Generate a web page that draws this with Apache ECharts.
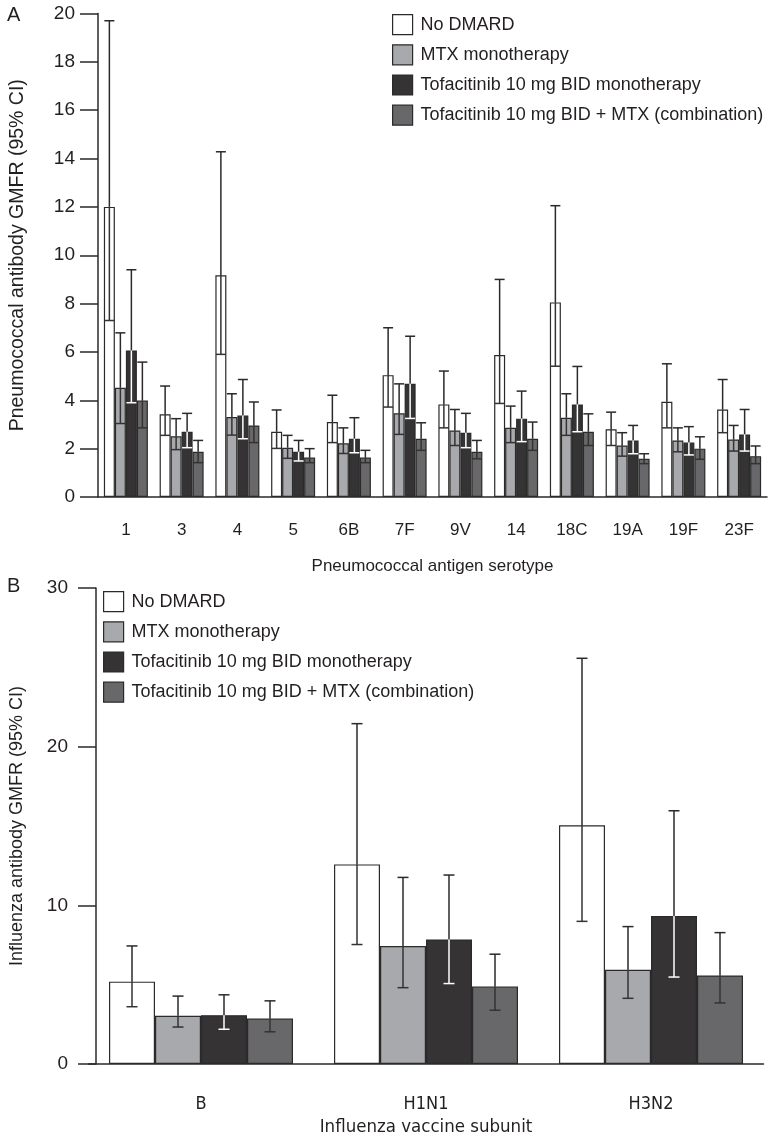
<!DOCTYPE html>
<html><head><meta charset="utf-8">
<script src="https://cdn.jsdelivr.net/npm/echarts@6/dist/echarts.min.js"></script>
<style>html,body{margin:0;padding:0;background:#fff}#c{width:777px;height:1138px}</style>
</head><body><div id="c"></div><script>
const seriesNames = ['No DMARD', 'MTX monotherapy', 'Tofacitinib 10 mg BID monotherapy', 'Tofacitinib 10 mg BID + MTX (combination)'];

// Panel A: pneumococcal serotypes
const serotypes = ['1', '3', '4', '5', '6B', '7F', '9V', '14', '18C', '19A', '19F', '23F'];
const pneuNoDmardMean  = [12.0, 3.42, 9.17, 2.70, 3.10, 5.04, 3.83, 5.87, 8.05, 2.80, 3.94, 3.62];
const pneuNoDmardLower = [7.3, 2.55, 5.9, 2.01, 2.25, 3.72, 2.86, 3.87, 5.41, 2.13, 2.86, 2.66];
const pneuNoDmardUpper = [19.7, 4.59, 14.28, 3.6, 4.21, 7.0, 5.21, 9.0, 12.05, 3.51, 5.51, 4.86];
const pneuMtxMean  = [4.52, 2.51, 3.31, 2.04, 2.22, 3.46, 2.75, 2.86, 3.28, 2.13, 2.34, 2.38];
const pneuMtxLower = [3.04, 1.96, 2.56, 1.60, 1.80, 2.59, 2.13, 2.25, 2.55, 1.69, 1.87, 1.90];
const pneuMtxUpper = [6.79, 3.24, 4.27, 2.55, 2.86, 4.68, 3.62, 3.76, 4.27, 2.66, 2.86, 2.96];
const pneuTofaMean  = [6.06, 2.70, 3.37, 1.87, 2.41, 4.68, 2.66, 3.24, 3.83, 2.34, 2.25, 2.59];
const pneuTofaLower = [3.9, 2.04, 2.41, 1.49, 1.83, 3.25, 2.04, 2.29, 2.70, 1.79, 1.74, 1.90];
const pneuTofaUpper = [9.4, 3.46, 4.86, 2.34, 3.28, 6.65, 3.46, 4.38, 5.40, 2.96, 2.91, 3.62];
const pneuComboMean  = [3.99, 1.87, 2.96, 1.63, 1.63, 2.41, 1.87, 2.41, 2.70, 1.58, 2.0, 1.69];
const pneuComboLower = [2.86, 1.42, 2.25, 1.42, 1.42, 1.93, 1.58, 1.93, 2.13, 1.38, 1.56, 1.38];
const pneuComboUpper = [5.58, 2.34, 3.93, 2.0, 1.93, 3.07, 2.34, 3.10, 3.44, 1.79, 2.49, 2.11];
const pneuTicks = [0, 2, 4, 6, 8, 10, 12, 14, 16, 18, 20];

// Panel B: influenza subunits
const subunits = ['B', 'H1N1', 'H3N2'];
const fluNoDmardMean  = [5.19, 12.58, 15.05];
const fluNoDmardLower = [3.61, 7.53, 8.99];
const fluNoDmardUpper = [7.44, 21.45, 25.57];
const fluMtxMean  = [3.04, 7.44, 5.94];
const fluMtxLower = [2.33, 4.81, 4.14];
const fluMtxUpper = [4.28, 11.76, 8.66];
const fluTofaMean  = [3.08, 7.85, 9.33];
const fluTofaLower = [2.19, 5.07, 5.48];
const fluTofaUpper = [4.36, 11.91, 15.96];
const fluComboMean  = [2.86, 4.89, 5.58];
const fluComboLower = [2.03, 3.39, 3.85];
const fluComboUpper = [3.98, 6.92, 8.28];
const fluTicks = [0, 10, 20, 30];

const fills = ['#ffffff', '#a8a9ac', '#353334', '#68686a'];
const lowLine = ['#333333', '#333333', '#ffffff', '#333333'];
const ink = '#231f20';
const font = '"Liberation Sans", Arial, sans-serif';
const narrow = '"Liberation Sans Narrow", "DejaVu Sans Condensed", "Liberation Sans", sans-serif';

const pneu = [
  [pneuNoDmardMean, pneuNoDmardLower, pneuNoDmardUpper],
  [pneuMtxMean, pneuMtxLower, pneuMtxUpper],
  [pneuTofaMean, pneuTofaLower, pneuTofaUpper],
  [pneuComboMean, pneuComboLower, pneuComboUpper]
];
const flu = [
  [fluNoDmardMean, fluNoDmardLower, fluNoDmardUpper],
  [fluMtxMean, fluMtxLower, fluMtxUpper],
  [fluTofaMean, fluTofaLower, fluTofaUpper],
  [fluComboMean, fluComboLower, fluComboUpper]
];

const PA_BAR = 11, PB_BAR = 46;

function errRender(idx, barW, capHi, capLo) {
  return function (params, api) {
    const i = api.value(0);
    const c = api.coord([i, api.value(1)]);
    const x = c[0] + (idx - 1.5) * barW;
    const ym = c[1];
    const yLo = api.coord([i, api.value(2)])[1];
    const yHi = api.coord([i, api.value(3)])[1];
    const s = { stroke: '#2a2a2a', lineWidth: 1.5 };
    const sl = { stroke: lowLine[idx], lineWidth: 1.5 };
    return { type: 'group', children: [
      { type: 'line', shape: { x1: x, y1: ym, x2: x, y2: yHi }, style: s },
      { type: 'line', shape: { x1: x - capHi / 2, y1: yHi, x2: x + capHi / 2, y2: yHi }, style: s },
      { type: 'line', shape: { x1: x, y1: ym, x2: x, y2: yLo }, style: sl },
      { type: 'line', shape: { x1: x - capLo / 2, y1: yLo, x2: x + capLo / 2, y2: yLo }, style: sl }
    ]};
  };
}

const series = [];
function addPanel(data, gridIdx, barW, capHi, capLo) {
  data.forEach((d, k) => {
    series.push({
      name: seriesNames[k], type: 'bar', xAxisIndex: gridIdx, yAxisIndex: gridIdx,
      data: d[0], barWidth: barW, barGap: '0%',
      itemStyle: { color: fills[k], borderColor: '#2a2a2a', borderWidth: 1.2 },
      emphasis: { disabled: true }, z: 2
    });
  });
  data.forEach((d, k) => {
    series.push({
      type: 'custom', xAxisIndex: gridIdx, yAxisIndex: gridIdx,
      renderItem: errRender(k, barW, capHi, capLo),
      data: d[0].map((m, i) => [i, m, d[1][i], d[2][i]]),
      encode: { x: 0, y: [1, 2, 3] }, z: 5, silent: true
    });
  });
}
addPanel(pneu, 0, PA_BAR, 10, 10);
addPanel(flu, 1, PB_BAR, 11, 11);

const legendBase = {
  orient: 'vertical', data: seriesNames, icon: 'rect', itemWidth: 20, itemHeight: 20,
  itemGap: 9, padding: 0, selectedMode: false,
  itemStyle: { borderColor: '#2a2a2a', borderWidth: 1.2 },
  textStyle: { fontFamily: font, fontSize: 18, color: ink, padding: [0, 0, 0, 3] }
};

const option = {
  backgroundColor: '#fff',
  animation: false,
  title: [
    { text: 'A', left: 2, top: 0, textStyle: { fontFamily: font, fontSize: 20, fontWeight: 'normal', color: ink } },
    { text: 'B', left: 2, top: 571, textStyle: { fontFamily: font, fontSize: 20, fontWeight: 'normal', color: ink } }
  ],
  legend: [
    Object.assign({}, legendBase, { left: 392, top: 14 }),
    Object.assign({}, legendBase, { left: 103, top: 591 })
  ],
  grid: [
    { left: 90, right: 10, top: 13.5, height: 483.5, containLabel: false },
    { left: 82.5, right: 13.5, top: 588, height: 488, containLabel: false }
  ],
  xAxis: [
    { type: 'category', gridIndex: 0, data: serotypes,
      axisLine: { lineStyle: { color: '#2a2a2a', width: 1.5 } }, axisTick: { show: false },
      axisLabel: { fontFamily: font, fontSize: 17, color: ink, margin: 25, interval: 0 },
      name: 'Pneumococcal antigen serotype', nameLocation: 'middle', nameGap: 61,
      nameTextStyle: { fontFamily: font, fontSize: 17, color: ink } },
    { type: 'category', gridIndex: 1, data: subunits,
      axisLine: { lineStyle: { color: '#2a2a2a', width: 1.5 } }, axisTick: { show: false },
      axisLabel: { fontFamily: narrow, fontSize: 18, color: ink, margin: 31, interval: 0 },
      name: 'Influenza vaccine subunit', nameLocation: 'middle', nameGap: 54,
      nameTextStyle: { fontFamily: narrow, fontSize: 18.5, color: ink } }
  ],
  yAxis: [
    { type: 'value', gridIndex: 0, min: 0, max: 20, interval: 2,
      axisLine: { show: true, lineStyle: { color: '#2a2a2a', width: 1.5 } },
      axisTick: { show: true, length: 18, lineStyle: { color: '#2a2a2a', width: 1.5 } },
      splitLine: { show: false },
      axisLabel: { fontFamily: font, fontSize: 19, color: ink, margin: 23,
        formatter: v => pneuTicks.includes(v) ? String(v) : '' },
      name: 'Pneumococcal antibody GMFR (95% CI)', nameLocation: 'middle', nameGap: 70,
      nameTextStyle: { fontFamily: font, fontSize: 19.5, color: ink } },
    { type: 'value', gridIndex: 1, min: 0, max: 30, interval: 10, offset: -7.5,
      axisLine: { show: true, lineStyle: { color: '#2a2a2a', width: 1.5 } },
      axisTick: { show: true, length: 18, lineStyle: { color: '#2a2a2a', width: 1.5 } },
      splitLine: { show: false },
      axisLabel: { fontFamily: font, fontSize: 19, color: ink, margin: 28,
        formatter: v => fluTicks.includes(v) ? String(v) : '' },
      name: 'Influenza antibody GMFR (95% CI)', nameLocation: 'middle', nameGap: 70,
      nameTextStyle: { fontFamily: font, fontSize: 18, color: ink } }
  ],
  series: series
};

const chart = echarts.init(document.getElementById('c'), null, { renderer: 'canvas' });
chart.setOption(option);
</script></body></html>
